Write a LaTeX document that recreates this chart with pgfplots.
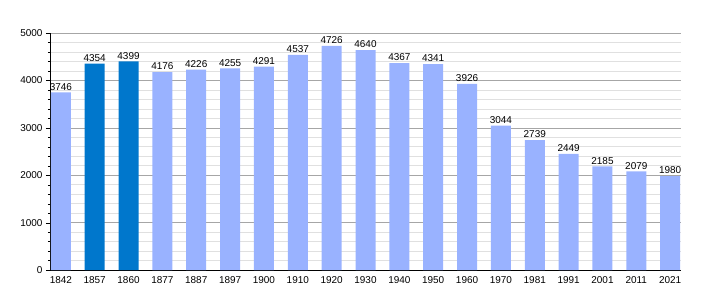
\documentclass[border=0pt]{standalone}
\usepackage{pgfplots}
\pgfplotsset{compat=1.18}
\usepackage{fontspec}
\setmainfont{Liberation Sans}
\definecolor{lightbar}{HTML}{99B2FF}
\definecolor{darkbar}{HTML}{0077CC}
\begin{document}
\begin{tikzpicture}[x=1bp,y=1bp]
\useasboundingbox (-50bp,-30bp) rectangle (660bp,270bp);
\begin{axis}[
  scale only axis,
  width=631bp, height=237bp,
  anchor=south west, at={(0,0)},
  xmin=-0.32, xmax=18.32,
  ymin=0, ymax=5000,
  axis x line=bottom, axis y line=left,
  axis line style={-, black},
  xtick={0,...,18},
  xticklabels={1842,1857,1860,1877,1887,1897,1900,1910,1920,1930,1940,1950,1960,1970,1981,1991,2001,2011,2021},
  x tick style={draw=none},
  ytick={0,1000,...,5000},
  minor y tick num=4,
  ymajorgrids, yminorgrids,
  major grid style={color=black!35, line width=0.6pt},
  minor grid style={color=black!12, line width=0.6pt},
  y tick style={black},
  tick align=outside,
  major tick length=4bp, minor tick length=2bp,
  tick label style={font=\fontsize{10}{12}\selectfont},
  xticklabel style={yshift=1bp},
  /pgf/number format/assume math mode=true,
  /pgf/number format/1000 sep={},
  yticklabel style={/pgf/number format/fixed},
  ybar, bar width=20bp, bar shift=0pt,
  nodes near coords,
  nodes near coords style={font=\fontsize{10}{12}\selectfont, text=black, /pgf/number format/1000 sep={}, inner sep=2bp},
  clip=false,
]
\addplot[fill=lightbar, draw=none] coordinates {
(0,3746) (3,4176) (4,4226) (5,4255) (6,4291) (7,4537) (8,4726) (9,4640) (10,4367) (11,4341) (12,3926) (13,3044) (14,2739) (15,2449) (16,2185) (17,2079) (18,1980)};
\addplot[fill=darkbar, draw=none] coordinates {(1,4354) (2,4399)};
\end{axis}
\end{tikzpicture}
\end{document}
